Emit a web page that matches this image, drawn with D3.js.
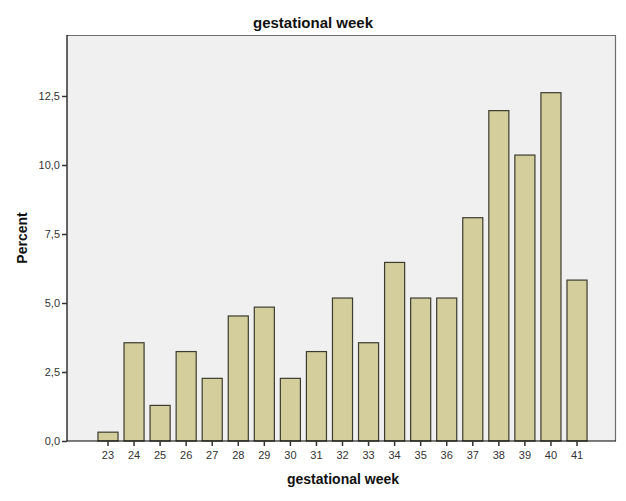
<!DOCTYPE html>
<html><head><meta charset="utf-8">
<script src="https://cdn.jsdelivr.net/npm/d3@7/dist/d3.min.js"></script>
<style>body{margin:0;background:#fff}svg{display:block}text{font-family:"Liberation Sans",Arial,sans-serif}</style>
</head><body>
<svg id="c" width="626" height="501"></svg>
<script>
const weeks = ["23","24","25","26","27","28","29","30","31","32","33","34","35","36","37","38","39","40","41"];
const percents = [0.32,3.56,1.29,3.24,2.27,4.53,4.85,2.27,3.24,5.18,3.56,6.47,5.18,5.18,8.09,11.97,10.36,12.62,5.83];
const yTicks = [0,2.5,5,7.5,10,12.5];
const yTickLabels = ["0,0","2,5","5,0","7,5","10,0","12,5"];

const svg = d3.select("#c");
const L=67, R=616, T=35, B=441;
const x = d3.scaleBand().domain(weeks).range([L+1,R+1]).paddingInner(0.23).paddingOuter(1.15);
const y = d3.scaleLinear().domain([0,14.71]).range([B,T]);

svg.append("rect").attr("x",L).attr("y",T).attr("width",R-L).attr("height",B-T).attr("fill","#f0f0f0");
svg.append("path").attr("d",`M${L},${T+0.5}H${R-0.5}V${B}`).attr("fill","none").attr("stroke","#6e6e6e").attr("stroke-width",1.2);

svg.selectAll("rect.bar").data(weeks).enter().append("rect").attr("class","bar")
  .attr("x",d=>x(d)).attr("width",x.bandwidth())
  .attr("y",(d,i)=>y(percents[i])).attr("height",(d,i)=>B-y(percents[i]))
  .attr("fill","#d3ce9b").attr("stroke","#3c3c30").attr("stroke-width",1.2);

const ya = svg.append("g").attr("transform",`translate(${L},0)`)
  .call(d3.axisLeft(y).tickValues(yTicks).tickFormat((d,i)=>yTickLabels[i]).tickSize(5).tickPadding(2));
const xa = svg.append("g").attr("transform",`translate(0,${B})`)
  .call(d3.axisBottom(x).tickSize(5).tickPadding(5).tickSizeOuter(0));
[ya,xa].forEach(g=>{
  g.select(".domain").attr("stroke","#000").attr("stroke-width",1.2);
  g.selectAll(".tick line").attr("stroke","#333").attr("stroke-width",1.5);
  g.selectAll(".tick text").attr("fill","#333").attr("font-size","11px").attr("font-family","Liberation Sans, Arial, sans-serif");
});
ya.select(".domain").attr("d",`M0,${T}V${B}`);
xa.select(".domain").attr("d",`M${L},0H${R}`);

svg.append("text").attr("x",313).attr("y",28).attr("text-anchor","middle").attr("font-size","15px").attr("font-weight","bold").attr("fill","#111").text("gestational week");
svg.append("text").attr("x",343).attr("y",484).attr("text-anchor","middle").attr("font-size","14px").attr("font-weight","bold").attr("fill","#111").text("gestational week");
svg.append("text").attr("transform","translate(27,238) rotate(-90)").attr("text-anchor","middle").attr("font-size","14px").attr("font-weight","bold").attr("fill","#111").text("Percent");
</script>
</body></html>
